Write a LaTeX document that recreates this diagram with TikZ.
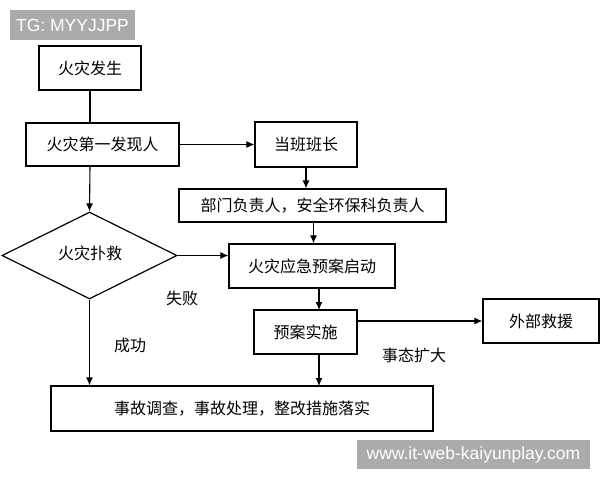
\documentclass[tikz,border=0pt]{standalone}
\usepackage{fontspec}
\setmainfont{Liberation Sans}
\newfontfamily\cjk{Noto Sans CJK SC}
\usetikzlibrary{arrows.meta,shapes.geometric}
\begin{document}
\begin{tikzpicture}[x=1pt,y=-1pt,
  box/.style={draw,line width=1.2pt,inner sep=0pt,font=\cjk\fontsize{16}{16}\selectfont},
  lbl/.style={font=\cjk\fontsize{16}{16}\selectfont,inner sep=0pt},
  arr/.style={line width=1.1pt,-{Latex[length=8pt,width=7pt]}},
  ln/.style={line width=1.1pt},
  wm/.style={fill=black!33,text=white,inner sep=0pt,font=\fontsize{17.5}{17.5}\selectfont}]
\useasboundingbox (0,0) rectangle (600,480);
\fill[white] (0,0) rectangle (600,480);
% nodes
\node[box,minimum width=102pt,minimum height=44pt] (fs) at (90,68) {火灾发生};
\node[box,minimum width=153pt,minimum height=43pt] (fx) at (102.5,144.5) {火灾第一发现人};
\node[box,minimum width=102pt,minimum height=45pt] (bz) at (306,144.5) {当班班长};
\node[box,minimum width=267pt,minimum height=33pt] (bm) at (312.5,205.5) {部门负责人，安全环保科负责人};
\node[draw,line width=1.2pt,diamond,aspect=2,minimum width=175pt,minimum height=87pt,inner sep=0pt] (pj) at (89.5,255.5) {};
\node[lbl] at (90,253) {火灾扑救};
\node[box,minimum width=166pt,minimum height=44pt] (yj) at (312,266) {火灾应急预案启动};
\node[box,minimum width=103pt,minimum height=44pt] (ss) at (305.5,332) {预案实施};
\node[box,minimum width=116pt,minimum height=44pt] (wb) at (541,321) {外部救援};
\node[box,minimum width=382pt,minimum height=45pt] (dc) at (242,408.5) {事故调查，事故处理，整改措施落实};
% labels
\node[lbl] (sb) at (182,298) {失败};
\node[lbl] (cg) at (130,345) {成功};
\node[lbl] (tk) at (414,355) {事态扩大};
% connectors
\draw[ln] (fs.south) -- (fs.south |- fx.north);
\draw[arr] (fx.east) -- (bz.west);
\draw[arr] (bz.south) -- (bz.south |- bm.north);
\draw[arr] ([xshift=1pt]bm.south) -- ([xshift=1pt]bm.south |- yj.north);
\draw[arr] (90,166) -- (pj.north);
\draw[arr] (pj.east) -- (pj.east -| yj.west);
\draw[arr] (319,288) -- (319,310);
\draw[arr] (ss.east |- wb.west) -- (wb.west);
\draw[arr] (319,354) -- (319,386);
\draw[arr] (pj.south) -- (pj.south |- dc.north);
% watermarks
\node[wm,minimum width=125pt,minimum height=30pt] (w1) at (72.5,25) {TG: MYYJJPP};
\node[wm,minimum width=233pt,minimum height=29pt] (w2) at (473.5,454.5) {www.it-web-kaiyunplay.com};
\end{tikzpicture}
\end{document}
